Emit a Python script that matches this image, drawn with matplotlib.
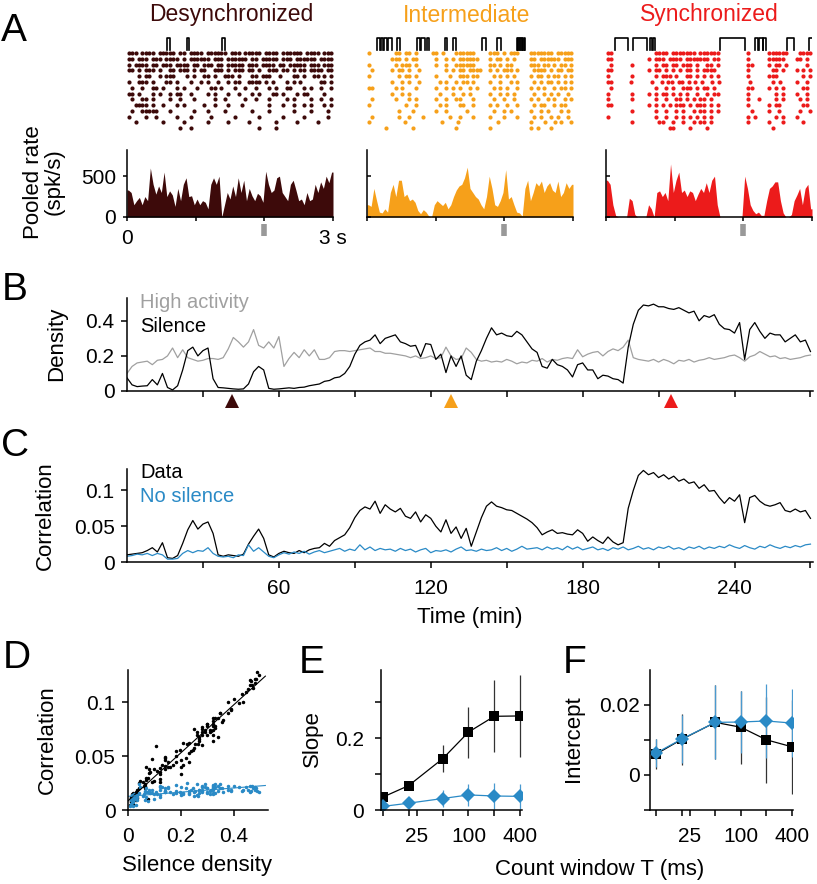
import numpy as np
import matplotlib
matplotlib.use('Agg')
import matplotlib.pyplot as plt
from matplotlib.ticker import FixedLocator, NullFormatter

plt.rcParams['font.family'] = ['Liberation Sans', 'DejaVu Sans']
plt.rcParams['axes.linewidth'] = 1.1
plt.rcParams['xtick.major.width'] = 1.1
plt.rcParams['ytick.major.width'] = 1.1
plt.rcParams['xtick.minor.width'] = 1.1
plt.rcParams['xtick.labelsize'] = 15
plt.rcParams['ytick.labelsize'] = 15

# ---------------- data ----------------
state_names = ['Desynchronized', 'Intermediate', 'Synchronized']
state_colors = ['#3d0a0a', '#f6a01a', '#ec1b1b']
state_times = [41.5, 128, 215]   # min, where the three examples come from

# rasters, one string per neuron, 'o' = spike (3 s wide)
raster_desync = [
    "ooo.oooo.ooooo.oo.oooo.oooooo.ooo.ooooo.oooo.oooooo.oooo.ooo",
    "oo.ooo.ooo.oooo.o.oooooo.ooo.oooooo.oo.ooooo.ooo.oooooo.oooo",
    "o.oooo.oo.ooo.oooo.oo.ooo.oo.ooooo.ooo.oooo.oo.ooooo.ooo.ooo",
    "oo.o.ooo.o..oo.ooo.o.oo..ooo.o.ooo.oo.o..ooo.oo.o.oo.oooo.oo",
    "...o.oo..o.ooo...o.o..oo.o..ooo.o...oo.ooo..o...oo.o..oo.o.o",
    "o..ooo.o...oo.o...o..o.o..o..o.oo..oooo.o.o...o.o.o.....oo.o",
    ".o..o..oo.o...o.o...o...oo.o...o..o..o...o.o..oo...o.o..o..o",
    "oo.o...o.o..o.oo..o....o.o...o..o...o.o...oo.o...o.oo....o..",
    ".o..oo.o....o..o...o.....o..o.....o..o...o....o.o....o..o..o",
    "..oooo.o..o...o.o.....o..o...o...o.......o...o..o..o.o...o.o",
    ".o..ooooo...o......o...o....o.......o....o......o....o....o.",
    "o....o..o.....o...o.....o......o......o......o.....o......o.",
    "..o.......o.....o......o.....o.....o.......o.....o.....o....",
    "...............o..o...................o....o................",
]
raster_inter = [
    "o.......oo.oo.o....oo.o...oooooo....ooo.o.ooo...ooooooo.ooooo",
    ".......ooo.o.oo.....o..o.o.oooooo...o.oo.o.o....oo.oooooo.ooo",
    "o.......o.ooo.o.....o..o..oooooo....oo.o.oo.....ooo.oo.o.oo.o",
    ".o.....o.oo.o..o.......o.o.oo.oooo..o.o.ooo.o....oooo.o.oo.oo",
    "o........o.oo.o.....o...o..ooo.oo....o.o.o.o....o.oo.o.oo.o.o",
    ".......o..o.o..o.....o.o..o.oo.o....o..o..o.o....o.o.oo.o.o.o",
    "oo......o.o...o.....o..o.o.o..o.o....o.o.o..o...o.o.o..o.oo.o",
    ".......o..o.o........o...o..o.o.....o..o.o.o.....o..o.o.o..o.",
    ".o......o...o.o.....o..o..oo...o.....o..o..o....o.o..o.o..o.o",
    "o..........o..o......o.o...oo..o....o.o..o..o....o.oo..o.oo..",
    ".........o...o......o..o.....o.......o..o.o.....o..o.o...o.o.",
    ".o.......o..o...o.......o..o...o....o...o...o....o.o..o.o..o.",
    "o..........o..........o....o...........o.........o...o..o.o..o",
    ".....o.......o............o.........o...........o.o...o......",
]
raster_sync = [
    "oo............oooo.ooooooo.oooooo........o.....oooooo...oooo",
    "oo..........o.ooo.oooo.ooooooo.oo........o.....ooooo...oo.o.",
    ".o.....o......o.oo.oo.ooo.o..oo.o........oo....o.oo.o.....o.",
    "oo..........o.oo.o.o.o.oo.o.oooo.........o......oo.o...o.o.o",
    "o......o......o.ooo.o..oo.o.o.o.o........o.....ooo.......o.o",
    "oo.....o.....o..o.oo.oo.o.o.o..o.o........o......o.o....o..o.",
    ".o............o..o.o..ooo.o.oo.o.........oo....o.o.o.....oo.",
    "o......o....o.o.oo.o.o.o..o..o.oo........o.......o.o...o..o.",
    "o......o......o..o..oo.o.o.oo.o..........o..o....o.o....o.o.",
    "oo..........o.o.o.o.ooo.o.ooo.o.o........o.....o.oo......oo.",
    ".......o......o..o..o.o..o.oo.o.o.........o....o..o.....o..o",
    "o.............o..o..o.o.o.o.o.o..........o.o.....o.o...o....",
    ".......o.......oo..o..o..o.oo.o..........o.....o...o.....o..",
    "..................oo....o....o..................o...........",
]

# silence periods (s) marked above each raster
silence_desync = [(0.58, 0.62), (0.87, 0.90), (1.38, 1.43)]
silence_inter = [(0.15, 0.19), (0.20, 0.24), (0.25, 0.29), (0.30, 0.36), (0.44, 0.48),
                 (0.73, 0.77), (0.78, 0.84), (0.87, 0.91), (1.135, 1.17), (1.257, 1.29),
                 (1.67, 1.73), (1.89, 1.95), (2.18, 2.20), (2.205, 2.225), (2.23, 2.25),
                 (2.255, 2.275), (2.28, 2.30)]
silence_sync = [(0.131, 0.325), (0.398, 0.592), (0.64, 0.674), (0.689, 0.713),
                (1.66, 2.02), (2.17, 2.22), (2.232, 2.28), (2.29, 2.326),
                (2.636, 2.733), (2.96, 3.2)]

# pooled rate (spk/s), 40 ms bins
rate_desync = [330, 300, 150, 200, 240, 150, 250, 200, 600, 400,
               280, 380, 300, 550, 250, 320, 270, 130, 350, 200,
               400, 480, 250, 260, 150, 220, 150, 200, 180, 100,
               400, 480, 400, 500, 0, 150, 300, 220, 380, 250,
               480, 300, 450, 200, 350, 260, 200, 290, 260, 180,
               560, 400, 300, 330, 480, 500, 300, 250, 200, 400,
               450, 330, 200, 220, 150, 300, 200, 220, 400, 300,
               430, 350, 500, 420, 550]
rate_inter = [150, 130, 350, 200, 60, 50, 100, 60, 300, 400,
              250, 450, 450, 250, 280, 200, 220, 180, 80, 40,
              90, 60, 10, 0, 150, 200, 170, 140, 180, 100,
              150, 250, 330, 380, 400, 480, 610, 350, 300, 250,
              220, 150, 100, 250, 500, 350, 150, 130, 200, 300,
              580, 220, 250, 150, 60, 50, 10, 350, 450, 200,
              300, 420, 380, 440, 300, 380, 420, 330, 300, 440,
              250, 300, 420, 350, 400]
rate_sync = [450, 400, 150, 20, 0, 0, 0, 0, 230, 200,
             30, 0, 0, 0, 0, 150, 100, 0, 300, 320,
             250, 300, 200, 650, 300, 450, 550, 300, 330, 250,
             320, 300, 200, 280, 350, 300, 420, 300, 450, 500,
             150, 0, 0, 0, 0, 0, 0, 0, 0, 0,
             500, 350, 150, 80, 40, 60, 20, 20, 200, 350,
             380, 430, 430, 200, 50, 0, 0, 30, 200, 270,
             350, 150, 350, 400, 100]

rasters = [raster_desync, raster_inter, raster_sync]
silences = [silence_desync, silence_inter, silence_sync]
rates = [rate_desync, rate_inter, rate_sync]

# time course, one value every 2 min
minutes = np.arange(0, 272, 2)
silence_density = [
    0.075, 0.035, 0.025, 0.028, 0.03, 0.065, 0.035, 0.1, 0.02, 0.006,
    0.03, 0.12, 0.23, 0.25, 0.2, 0.23, 0.245, 0.07, 0.02, 0.018,
    0.015, 0.012, 0.01, 0.012, 0.04, 0.11, 0.14, 0.12, 0.015, 0.01,
    0.012, 0.015, 0.018, 0.015, 0.02, 0.022, 0.03, 0.035, 0.04, 0.055,
    0.06, 0.075, 0.08, 0.1, 0.14, 0.21, 0.26, 0.28, 0.29, 0.32,
    0.27, 0.3, 0.31, 0.32, 0.28, 0.27, 0.255, 0.26, 0.195, 0.27,
    0.265, 0.18, 0.21, 0.105, 0.2, 0.14, 0.2, 0.09, 0.065, 0.17,
    0.23, 0.3, 0.36, 0.32, 0.33, 0.315, 0.31, 0.34, 0.32, 0.28,
    0.24, 0.22, 0.14, 0.13, 0.18, 0.15, 0.14, 0.12, 0.08, 0.15,
    0.16, 0.12, 0.12, 0.07, 0.09, 0.085, 0.07, 0.065, 0.045, 0.25,
    0.38, 0.46, 0.49, 0.485, 0.495, 0.48, 0.48, 0.47, 0.465, 0.475,
    0.46, 0.445, 0.455, 0.4, 0.43, 0.42, 0.435, 0.38, 0.355, 0.35,
    0.33, 0.39, 0.18, 0.35, 0.39, 0.34, 0.3, 0.33, 0.32, 0.32,
    0.28, 0.3, 0.32, 0.28, 0.29, 0.225]
high_activity = [
    0.1, 0.14, 0.16, 0.165, 0.17, 0.15, 0.175, 0.18, 0.2, 0.245,
    0.19, 0.235, 0.19, 0.18, 0.17, 0.175, 0.185, 0.185, 0.18, 0.19,
    0.24, 0.305, 0.28, 0.25, 0.28, 0.35, 0.26, 0.245, 0.28, 0.245,
    0.31, 0.14, 0.185, 0.22, 0.19, 0.235, 0.2, 0.235, 0.18, 0.18,
    0.19, 0.225, 0.23, 0.23, 0.225, 0.23, 0.235, 0.24, 0.245, 0.225,
    0.225, 0.215, 0.215, 0.21, 0.205, 0.2, 0.19, 0.2, 0.185, 0.19,
    0.2, 0.185, 0.19, 0.25, 0.2, 0.18, 0.185, 0.245, 0.22, 0.18,
    0.17, 0.175, 0.165, 0.17, 0.165, 0.18, 0.17, 0.155, 0.165, 0.16,
    0.175, 0.17, 0.185, 0.165, 0.18, 0.175, 0.185, 0.19, 0.185, 0.235,
    0.195, 0.21, 0.22, 0.225, 0.2, 0.225, 0.24, 0.23, 0.25, 0.29,
    0.19, 0.18, 0.175, 0.17, 0.18, 0.165, 0.18, 0.17, 0.155, 0.175,
    0.17, 0.18, 0.165, 0.175, 0.18, 0.19, 0.18, 0.185, 0.19, 0.2,
    0.205, 0.19, 0.17, 0.195, 0.205, 0.225, 0.21, 0.195, 0.2, 0.185,
    0.19, 0.18, 0.185, 0.19, 0.2, 0.205]
corr_data = [
    0.01, 0.011, 0.012, 0.013, 0.016, 0.02, 0.014, 0.027, 0.006, 0.005,
    0.009, 0.026, 0.045, 0.058, 0.046, 0.053, 0.056, 0.04, 0.01, 0.008,
    0.01, 0.009, 0.008, 0.011, 0.025, 0.036, 0.046, 0.033, 0.01, 0.007,
    0.012, 0.015, 0.013, 0.012, 0.016, 0.013, 0.017, 0.019, 0.02, 0.026,
    0.022, 0.03, 0.034, 0.038, 0.048, 0.062, 0.072, 0.077, 0.074, 0.085,
    0.068, 0.08, 0.074, 0.07, 0.075, 0.064, 0.061, 0.07, 0.056, 0.066,
    0.061, 0.05, 0.042, 0.059, 0.04, 0.049, 0.033, 0.047, 0.022, 0.042,
    0.062, 0.078, 0.084, 0.078, 0.076, 0.073, 0.072, 0.068, 0.064, 0.06,
    0.055, 0.048, 0.038, 0.042, 0.045, 0.04, 0.041, 0.039, 0.038, 0.045,
    0.04, 0.029, 0.035, 0.03, 0.026, 0.035, 0.028, 0.024, 0.027, 0.075,
    0.1, 0.121, 0.128, 0.122, 0.125, 0.118, 0.122, 0.116, 0.12, 0.113,
    0.116, 0.11, 0.112, 0.103, 0.108, 0.099, 0.1, 0.09, 0.082, 0.09,
    0.085, 0.094, 0.055, 0.09, 0.093, 0.085, 0.08, 0.078, 0.08, 0.083,
    0.072, 0.07, 0.074, 0.07, 0.072, 0.061]
corr_nosilence = [
    0.008, 0.009, 0.011, 0.01, 0.012, 0.009, 0.012, 0.01, 0.004, 0.004,
    0.005, 0.012, 0.016, 0.013, 0.016, 0.015, 0.02, 0.012, 0.008, 0.007,
    0.008, 0.006, 0.01, 0.009, 0.024, 0.015, 0.02, 0.014, 0.008, 0.006,
    0.01, 0.013, 0.011, 0.014, 0.012, 0.015, 0.011, 0.014, 0.016, 0.013,
    0.015, 0.017, 0.019, 0.015, 0.018, 0.016, 0.024, 0.017, 0.021, 0.016,
    0.019, 0.017, 0.018, 0.015, 0.019, 0.016, 0.018, 0.014, 0.017, 0.019,
    0.013, 0.016, 0.015, 0.017, 0.014, 0.018, 0.021, 0.016, 0.017, 0.015,
    0.018, 0.016, 0.017, 0.02, 0.016, 0.019, 0.015, 0.018, 0.022, 0.018,
    0.019, 0.02, 0.017, 0.021, 0.018, 0.02, 0.017, 0.022, 0.018, 0.021,
    0.017, 0.019, 0.021, 0.017, 0.019, 0.016, 0.02, 0.018, 0.021, 0.017,
    0.019, 0.022, 0.018, 0.02, 0.017, 0.021, 0.019, 0.022, 0.018, 0.02,
    0.017, 0.021, 0.019, 0.022, 0.018, 0.021, 0.019, 0.022, 0.02, 0.024,
    0.021, 0.019, 0.023, 0.02, 0.018, 0.022, 0.02, 0.024, 0.021, 0.019,
    0.022, 0.02, 0.023, 0.021, 0.024, 0.025]

# slope / intercept vs count window
count_window = [10, 20, 50, 100, 200, 400]
slope_data = [0.036, 0.068, 0.143, 0.217, 0.261, 0.262]
slope_data_err = [0.008, 0.009, 0.037, 0.071, 0.1, 0.114]
slope_nosil = [0.010, 0.019, 0.032, 0.042, 0.039, 0.038]
slope_nosil_err = [0.008, 0.008, 0.023, 0.03, 0.037, 0.035]
icpt_data = [0.0059, 0.0101, 0.0150, 0.0136, 0.0100, 0.0080]
icpt_data_err = [0.0042, 0.0072, 0.0106, 0.0104, 0.0124, 0.0134]
icpt_nosil = [0.0062, 0.0102, 0.0150, 0.0151, 0.0154, 0.0148]
icpt_nosil_err = [0.004, 0.0068, 0.0106, 0.009, 0.0107, 0.0097]

blue = '#2a8ac6'
grey = '#a0a0a0'

# ---------------- figure ----------------
W, H = 817, 884
fig = plt.figure(figsize=(W / 100, H / 100), dpi=100)

def box(x0, y0, x1, y1):
    # axes from a pixel box, y counted from the top
    ax = fig.add_axes([x0 / W, 1 - y1 / H, (x1 - x0) / W, (y1 - y0) / H])
    ax.spines['top'].set_visible(False)
    ax.spines['right'].set_visible(False)
    return ax

def label(x, y, s, **kw):
    kw.setdefault('ha', 'center')
    kw.setdefault('va', 'center')
    fig.text(x / W, 1 - y / H, s, **kw)

# ---- A ----
left = [127, 367, 606]
title_x = [231, 467, 709]
for k in range(3):
    x0 = left[k]
    label(title_x[k], 15, state_names[k], color=state_colors[k], fontsize=16.5)

    ax = box(x0, 36, x0 + 206, 134)
    ax.axis('off')
    for i, row in enumerate(rasters[k]):
        ts = [(j + 0.5) / len(row) * 3 for j, c in enumerate(row) if c == 'o']
        ax.plot(ts, [i] * len(ts), 'o', ms=3.0, mew=0, color=state_colors[k])
    for s, e in silences[k]:
        ax.plot([s, s, e, e], [-0.5, -2.6, -2.6, -0.5], color='k', lw=1.2)
    ax.set_xlim(0, 3)
    ax.set_ylim(14.0, -2.95)

    ax = box(x0, 150, x0 + 206, 217)
    r = np.array(rates[k], float)
    t = (np.arange(len(r)) + 0.5) * 3 / len(r)
    t = np.r_[0, t, 3]
    r = np.r_[r[0], r, r[-1]]
    ax.fill_between(t, 0, r, color=state_colors[k], lw=0)
    ax.set_xlim(0, 3)
    ax.set_ylim(0, 820)
    ax.set_xticks([0, 1, 2, 3])
    ax.set_yticks([0, 500])
    ax.tick_params(axis='x', length=3, pad=6)
    if k == 0:
        ax.set_xticklabels(['0', '', '', '3 s'])
        ax.set_yticklabels(['0', '500'])
        ax.tick_params(axis='y', length=3, pad=5)
    else:
        ax.set_xticklabels([])
        ax.set_yticklabels([])
        ax.tick_params(axis='y', direction='in', length=3)
    ax.plot([2, 2], [-0.1, -0.29], color='#999999', lw=4, solid_capstyle='butt',
            transform=ax.get_xaxis_transform(), clip_on=False)

label(44, 182, 'Pooled rate\n(spk/s)', rotation=90, fontsize=16, linespacing=1.0)
label(14, 31, 'A', fontsize=28)

# ---- B ----
ax = box(127, 298, 813, 391)
ax.plot(minutes, high_activity, color=grey, lw=0.9)
ax.plot(minutes, silence_density, color='k', lw=0.9)
ax.set_xlim(0, 271)
ax.set_ylim(0, 0.53)
ax.set_xticks(np.arange(30, 271, 30))
ax.set_xticklabels([])
ax.set_yticks([0, 0.2, 0.4])
ax.set_yticklabels(['0', '0.2', '0.4'])
ax.tick_params(length=4, pad=5)
for tm, col in zip(state_times, state_colors):
    ax.plot(tm, -0.108, marker='^', ms=10.5, color=col, mew=0,
            transform=ax.get_xaxis_transform(), clip_on=False)
label(140, 302, 'High activity', color=grey, fontsize=14.5, ha='left')
label(140, 326, 'Silence', color='k', fontsize=14.5, ha='left')
label(57, 344, 'Density', rotation=90, fontsize=16)
label(15, 290, 'B', fontsize=28)

# ---- C ----
ax = box(127, 469, 813, 562)
ax.plot(minutes, corr_data, color='k', lw=0.9)
ax.plot(minutes, corr_nosilence, color=blue, lw=0.9)
ax.set_xlim(0, 271)
ax.set_ylim(0, 0.13)
ax.set_xticks(np.arange(30, 271, 30))
ax.set_xticklabels(['', '60', '', '120', '', '180', '', '240', ''])
ax.set_yticks([0, 0.05, 0.1])
ax.set_yticklabels(['0', '0.05', '0.1'])
ax.tick_params(axis='y', length=4, pad=5)
ax.tick_params(axis='x', length=4, pad=8)
label(140, 472, 'Data', color='k', fontsize=14.5, ha='left')
label(140, 497, 'No silence', color=blue, fontsize=14.5, ha='left')
label(45, 516, 'Correlation', rotation=90, fontsize=16)
label(470, 617, 'Time (min)', fontsize=16)
label(15, 446, 'C', fontsize=28)

# ---- D ----
sil = np.array(silence_density)
cd = np.array(corr_data)
cn = np.array(corr_nosilence)
ax = box(128, 670, 268, 810)
ax.plot(sil, cd, '.', ms=3, color='k')
ax.plot(sil, cn, '.', ms=3, color=blue)
xs = np.array([0, 0.52])
m, c = np.polyfit(sil, cd, 1)
ax.plot(xs, m * xs + c, color='k', lw=0.8)
m, c = np.polyfit(sil, cn, 1)
ax.plot(xs, m * xs + c, color=blue, lw=0.8)
ax.set_xlim(0, 0.53)
ax.set_ylim(0, 0.13)
ax.set_xticks([0, 0.2, 0.4])
ax.set_xticklabels(['0', '0.2', '0.4'])
ax.set_yticks([0, 0.05, 0.1])
ax.set_yticklabels(['0', '0.05', '0.1'])
ax.tick_params(axis='y', length=4, pad=5)
ax.tick_params(axis='x', length=4, pad=8)
label(47, 740, 'Correlation', rotation=90, fontsize=16)
label(197, 866, 'Silence density', fontsize=16)
label(17, 658, 'D', fontsize=28)

# ---- E / F ----
def errplot(ax, y, yerr, fmt, col, ecol, ms):
    ax.errorbar(count_window, y, yerr=yerr, fmt=fmt, color=col, ecolor=ecol,
                ms=ms, mew=0, lw=0.9, elinewidth=0.9, capsize=3, capthick=0.9)

def log_axis(ax):
    ax.set_xscale('log')
    ax.xaxis.set_major_locator(FixedLocator([25, 100, 400]))
    ax.xaxis.set_minor_locator(FixedLocator([10, 20, 50, 200]))
    ax.xaxis.set_minor_formatter(NullFormatter())
    ax.set_xticklabels(['25', '100', '400'])
    ax.tick_params(axis='x', which='both', length=4, pad=8)

ax = box(381, 670, 522, 810)
errplot(ax, slope_data, slope_data_err, 's-', 'k', '#333333', 7)
errplot(ax, slope_nosil, slope_nosil_err, 'D-', blue, '#4a9ad0', 7)
log_axis(ax)
ax.set_xlim(9.5, 422)
ax.set_ylim(0, 0.39)
ax.set_yticks([0, 0.1, 0.2, 0.3])
ax.set_yticklabels(['0', '', '0.2', ''])
ax.tick_params(axis='y', length=4, pad=8)
label(312, 739, 'Slope', rotation=90, fontsize=16)
label(312, 663, 'E', fontsize=28)

ax = box(650, 670, 793, 810)
errplot(ax, icpt_data, icpt_data_err, 's-', 'k', '#333333', 7)
errplot(ax, icpt_nosil, icpt_nosil_err, 'D-', blue, '#4a9ad0', 7)
log_axis(ax)
ax.set_xlim(8.5, 411)
ax.set_ylim(-0.0101, 0.030)
ax.set_yticks([-0.01, 0, 0.01, 0.02])
ax.set_yticklabels(['', '0', '', '0.02'])
ax.tick_params(axis='y', length=4, pad=3)
label(574, 739, 'Intercept', rotation=90, fontsize=16)
label(575, 663, 'F', fontsize=28)

label(600, 869, 'Count window T (ms)', fontsize=16)

fig.savefig('out.png', dpi=100)
